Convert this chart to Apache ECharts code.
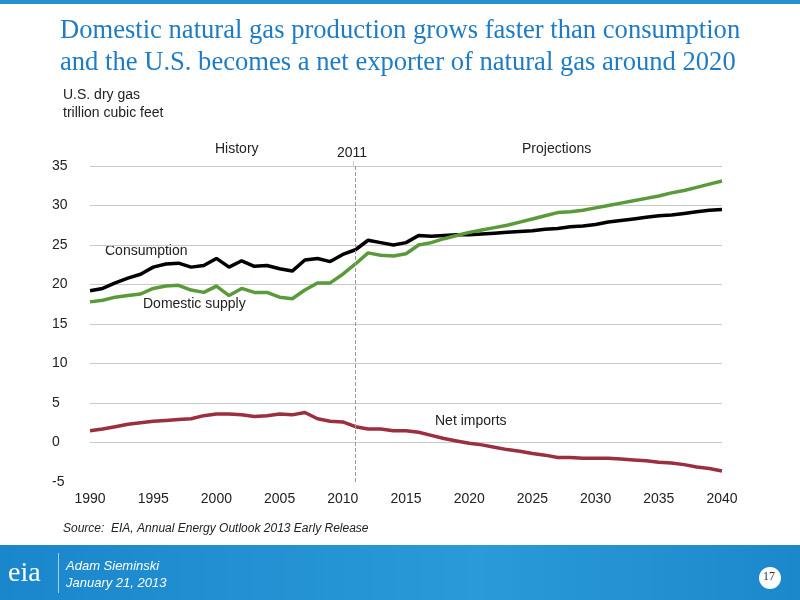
<!DOCTYPE html>
<html><head><meta charset="utf-8">
<script src="https://cdn.jsdelivr.net/npm/echarts@6/dist/echarts.min.js"></script>
<style>html,body{margin:0;padding:0;background:#fff}#main{width:800px;height:600px}</style>
</head><body><div id="main"></div>
<script>
const years = [];
for (let y = 1990; y <= 2040; y++) years.push(String(y));

const consumption = [19.2,19.5,20.2,20.8,21.3,22.2,22.6,22.7,22.2,22.4,
  23.3,22.2,23.0,22.3,22.4,22.0,21.7,23.1,23.3,22.9,
  23.8,24.4,25.6,25.3,25.0,25.3,26.2,26.1,26.2,26.3,
  26.3,26.4,26.5,26.6,26.7,26.8,27.0,27.1,27.3,27.4,
  27.6,27.9,28.1,28.3,28.5,28.7,28.8,29.0,29.2,29.4,29.5];
const domesticSupply = [17.8,18.0,18.4,18.6,18.8,19.5,19.8,19.9,19.3,19.0,
  19.8,18.6,19.5,19.0,19.0,18.4,18.2,19.3,20.2,20.2,
  21.3,22.6,24.0,23.7,23.6,23.9,25.0,25.3,25.8,26.2,
  26.6,26.9,27.2,27.5,27.9,28.3,28.7,29.1,29.2,29.4,
  29.7,30.0,30.3,30.6,30.9,31.2,31.6,31.9,32.3,32.7,33.1];
const netImports = [1.5,1.7,2.0,2.3,2.5,2.7,2.8,2.9,3.0,3.4,
  3.6,3.6,3.5,3.3,3.4,3.6,3.5,3.8,3.0,2.7,
  2.6,2.0,1.7,1.7,1.5,1.5,1.3,0.9,0.5,0.2,
  -0.1,-0.3,-0.6,-0.9,-1.1,-1.4,-1.6,-1.9,-1.9,-2.0,
  -2.0,-2.0,-2.1,-2.2,-2.3,-2.5,-2.6,-2.8,-3.1,-3.3,-3.6];

const chart = echarts.init(document.getElementById('main'));
const lbl = {color:'#222', fontFamily:'Liberation Sans', fontSize:14};
const txt = {fill:'#222', font:'14px "Liberation Sans"'};
chart.setOption({
  animation:false,
  textStyle:{fontFamily:'Liberation Sans'},
  graphic:[
    {type:'rect', shape:{x:0,y:0,width:800,height:4}, style:{fill:'#2a8fd0'}},
    {type:'text', left:60, top:15, style:{text:'Domestic natural gas production grows faster than consumption\nand the U.S. becomes a net exporter of natural gas around 2020', fill:'#1f7cc4', font:'26.6px "Liberation Serif"', lineHeight:32}},
    {type:'text', left:63, top:88, style:{text:'U.S. dry gas', ...txt}},
    {type:'text', left:63, top:106, style:{text:'trillion cubic feet', ...txt}},
    {type:'text', left:215, top:142, style:{text:'History', ...txt}},
    {type:'text', left:337, top:146, style:{text:'2011', ...txt}},
    {type:'text', left:522, top:142, style:{text:'Projections', ...txt}},
    {type:'text', left:105, top:244, style:{text:'Consumption', ...txt}},
    {type:'text', left:143, top:297, style:{text:'Domestic supply', ...txt}},
    {type:'text', left:435, top:414, style:{text:'Net imports', ...txt}},
    {type:'rect', shape:{x:353,y:161,width:0.5,height:5}, style:{fill:'#999'}},
    {type:'text', left:63, top:523, style:{text:'Source:  EIA, Annual Energy Outlook 2013 Early Release', fill:'#222', font:'italic 12px "Liberation Sans"'}},
    {type:'rect', shape:{x:0,y:545,width:800,height:55}, style:{fill:new echarts.graphic.LinearGradient(0,0,1,0,[{offset:0,color:'#1a86cc'},{offset:0.6,color:'#2a9ad8'},{offset:1,color:'#1c88cc'}])}},
    {type:'text', left:8, top:560, style:{text:'eia', fill:'#fff', font:'28px "Liberation Serif"'}},
    {type:'rect', shape:{x:58,y:553,width:1,height:40}, style:{fill:'rgba(255,255,255,0.6)'}},
    {type:'text', left:66, top:558, style:{text:'Adam Sieminski\nJanuary 21, 2013', fill:'#fff', font:'italic 13px "Liberation Sans"', lineHeight:17}},
    {type:'circle', shape:{cx:770,cy:578,r:11}, style:{fill:'#fff'}},
    {type:'text', left:763, top:571, style:{text:'17', fill:'#333', font:'12px "Liberation Serif"'}}
  ],
  grid:{left:90, right:78, top:166, bottom:118},
  xAxis:{type:'category', data:years, boundaryGap:false,
    axisLine:{show:false}, axisTick:{show:false},
    axisLabel:{...lbl, interval:4, margin:10}, splitLine:{show:false}},
  yAxis:{type:'value', min:-5, max:35, interval:5,
    axisLine:{show:false}, axisTick:{show:false},
    axisLabel:{...lbl, margin:38, align:'left'},
    splitLine:{showMinLine:false, lineStyle:{color:'#c8c8c8'}}},
  series:[
    {name:'Consumption', type:'line', data:consumption, symbol:'none', lineStyle:{color:'#000', width:3.5},
     markLine:{silent:true, symbol:'none', label:{show:false}, lineStyle:{color:'#999', type:'dashed', width:1},
       data:[{xAxis:'2011'}]}},
    {name:'Domestic supply', type:'line', data:domesticSupply, symbol:'none', lineStyle:{color:'#5b9a3a', width:3.5}},
    {name:'Net imports', type:'line', data:netImports, symbol:'none', lineStyle:{color:'#9b2f3e', width:3.5}}
  ]
});
</script></body></html>
